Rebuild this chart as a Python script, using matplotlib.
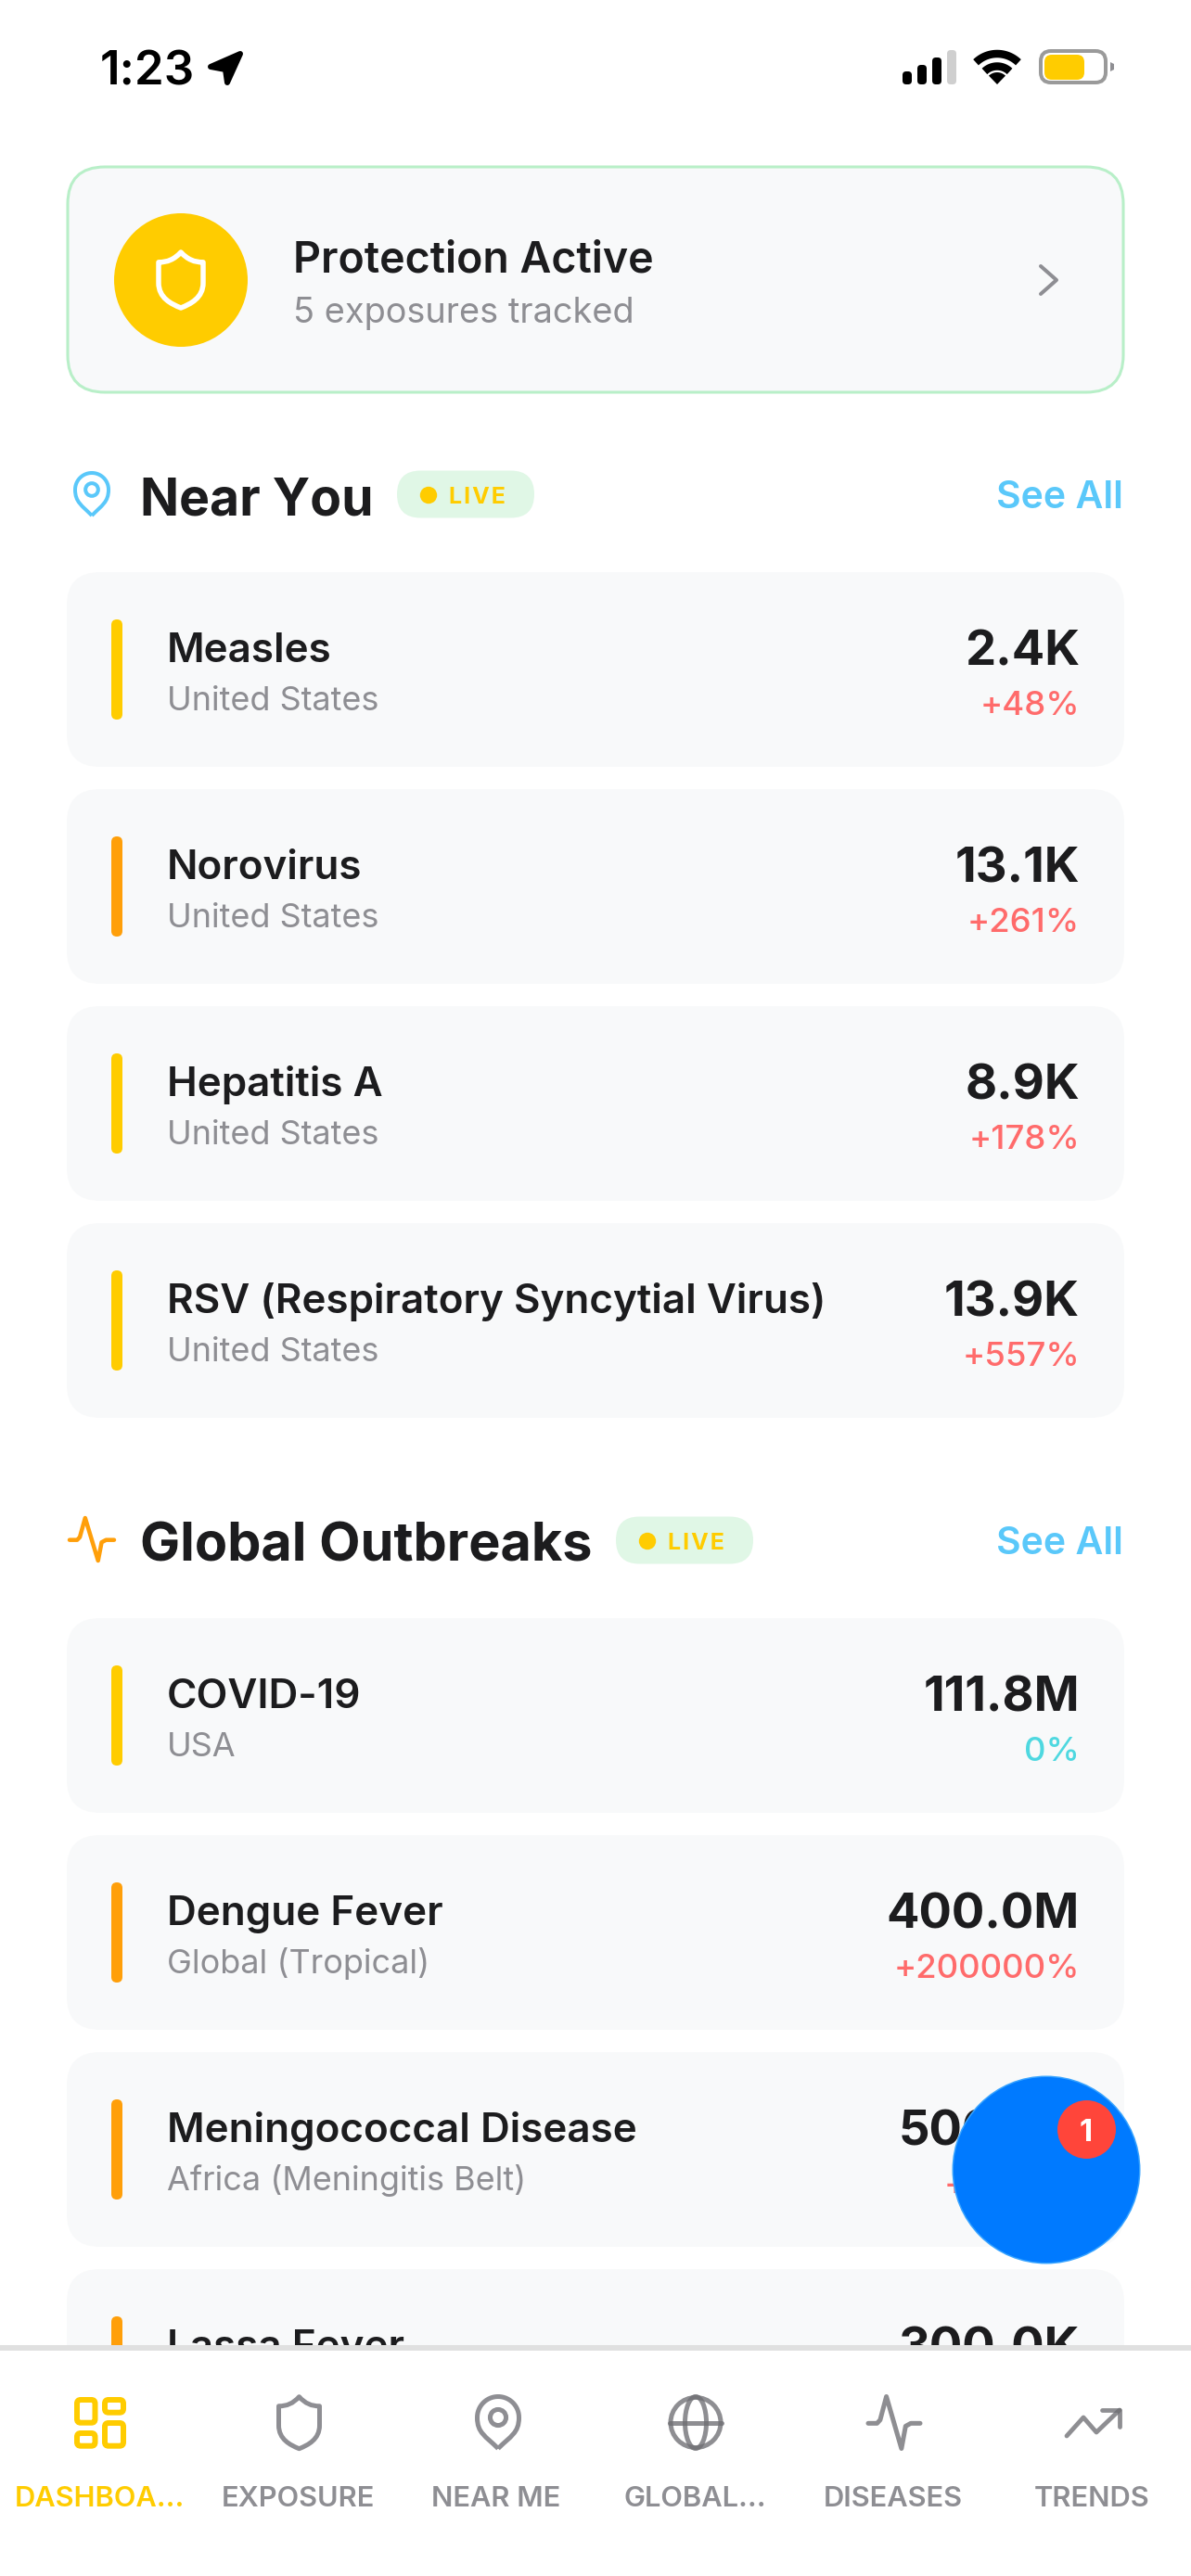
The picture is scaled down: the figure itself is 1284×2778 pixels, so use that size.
import numpy as np
import matplotlib
matplotlib.use('Agg')
import matplotlib.pyplot as plt
from matplotlib.patches import FancyBboxPatch, Circle, Ellipse, Rectangle, PathPatch, Polygon
from matplotlib.path import Path

plt.rcParams['font.family'] = ['Inter', 'DejaVu Sans']

near_names = ['Measles', 'Norovirus', 'Hepatitis A', 'RSV (Respiratory Syncytial Virus)']
near_regions = ['United States', 'United States', 'United States', 'United States']
near_values = ['2.4K', '13.1K', '8.9K', '13.9K']
near_changes = ['+48%', '+261%', '+178%', '+557%']
near_levels = ['y', 'o', 'y', 'y']

global_names = ['COVID-19', 'Dengue Fever', 'Meningococcal Disease', 'Lassa Fever']
global_regions = ['USA', 'Global (Tropical)', 'Africa (Meningitis Belt)', '']
global_values = ['111.8M', '400.0M', '500.0K', '300.0K']
global_changes = ['0%', '+200000%', '+1000%', '']
global_levels = ['y', 'o', 'o', 'o']

tab_labels = ['DASHBOA...', 'EXPOSURE', 'NEAR ME', 'GLOBAL...', 'DISEASES', 'TRENDS']

YELLOW = '#FFCC00'
ORANGE = '#FF9F0A'
DARK = '#1C1C1E'
GREY = '#8E8E93'
CARD = '#F8F9FA'
BLUE = '#5AC8FA'
RED = '#FF6B6B'
TEAL = '#4ED8E0'

fig = plt.figure(figsize=(12.84, 27.78), dpi=100)
ax = fig.add_axes([0, 0, 1, 1])
ax.set_xlim(0, 1284)
ax.set_ylim(2778, 0)
ax.axis('off')


def px(size):
    return size * 0.72


def rbox(x, y, w, h, r, fc, ec='none', lw=0, z=1):
    ax.add_patch(FancyBboxPatch((x + r, y + r), w - 2 * r, h - 2 * r,
                                boxstyle=f'round,pad={r},rounding_size={r}',
                                fc=fc, ec=ec, lw=lw, zorder=z))


def txt(x, y, s, size, color, weight='normal', ha='left', z=3):
    return ax.text(x, y, s, fontsize=px(size), color=color, fontweight=weight,
                   ha=ha, va='baseline', zorder=z)


def line(xs, ys, color, lw=4, z=4, alpha=1.0, cap='round'):
    ax.plot(xs, ys, color=color, lw=px(lw), solid_capstyle=cap, solid_joinstyle='round', zorder=z, alpha=alpha)


def shield(cx, cy, w, h, ec, lw=5, z=4):
    verts = [(0, -0.5),
             (0.15, -0.37), (0.3, -0.32), (0.5, -0.32),
             (0.5, 0.05),
             (0.5, 0.32), (0.22, 0.43), (0, 0.5),
             (-0.22, 0.43), (-0.5, 0.32), (-0.5, 0.05),
             (-0.5, -0.32),
             (-0.3, -0.32), (-0.15, -0.37), (0, -0.5),
             (0, -0.5)]
    codes = [Path.MOVETO,
             Path.CURVE4, Path.CURVE4, Path.CURVE4,
             Path.LINETO,
             Path.CURVE4, Path.CURVE4, Path.CURVE4,
             Path.CURVE4, Path.CURVE4, Path.CURVE4,
             Path.LINETO,
             Path.CURVE4, Path.CURVE4, Path.CURVE4,
             Path.CLOSEPOLY]
    v = [(cx + a * w, cy + b * h) for a, b in verts]
    ax.add_patch(PathPatch(Path(v, codes), fc='none', ec=ec, lw=px(lw), zorder=z, joinstyle='round'))


def pin(cx, cy, w, h, color, lw=4, z=4):
    r = w / 2
    ccy = cy - h / 2 + r
    head = [(cx + r * np.cos(q), ccy + r * np.sin(q)) for q in np.linspace(np.pi, 2 * np.pi, 30)]
    left = [(cx, cy + h / 2), (cx - r * 0.6, cy + h * 0.26), (cx - r, ccy + r * 0.75), (cx - r, ccy)]
    right = [(cx + r, ccy + r * 0.75), (cx + r * 0.6, cy + h * 0.26), (cx, cy + h / 2)]
    codes = [Path.MOVETO, Path.CURVE4, Path.CURVE4, Path.CURVE4] + [Path.LINETO] * 30 + [Path.CURVE4] * 3
    ax.add_patch(PathPatch(Path(left + head + right, codes), fc='none', ec=color, lw=px(lw), zorder=z,
                           joinstyle='round'))
    ax.add_patch(Circle((cx, ccy), r * 0.38, fc='none', ec=color, lw=px(lw), zorder=z))


def pulse(cx, cy, w, h, color, lw=4, z=4, alpha=1.0):
    xs = [-0.5, -0.33, -0.27, -0.15, 0.14, 0.22, 0.32, 0.5]
    ys = [0.015, 0.015, -0.05, -0.5, 0.5, 0.07, 0.015, 0.015]
    line([cx + a * w for a in xs], [cy + b * h for b in ys], color, lw, z, alpha)


def section(y_head, title, title_size, chip_x, names, regions, values, changes, levels, tops):
    txt(151, y_head + 22, title, title_size, DARK, 'bold')
    rbox(chip_x, y_head - 25.5, 148, 51, 25.5, '#E0F7E6')
    ax.add_patch(Circle((chip_x + 34, y_head + 1), 9.2, fc=YELLOW, ec='none', zorder=3))
    txt(chip_x + 56, y_head + 10, '\u200a'.join('LIVE'), 25, YELLOW, 'bold')
    txt(1211, y_head + 15, 'See All', 41, BLUE, 'semibold', ha='right')
    for i in range(len(names)):
        top = tops[i]
        rbox(72, top, 1140, 210, 36, CARD)
        col = YELLOW if levels[i] == 'y' else ORANGE
        rbox(120, top + 51, 12, 108, 6, col, z=2)
        txt(180, top + 97, names[i], 44, DARK, 'semibold')
        txt(180, top + 149, regions[i], 36, GREY)
        txt(1164, top + 100, values[i], 52.5, DARK, 'bold', ha='right')
        chg = RED if changes[i].startswith('+') else TEAL
        txt(1164, top + 154, changes[i], 36.5, chg, 'medium', ha='right')


# status bar
txt(108, 91, '1:23', 51, '#000000', 'semibold')
ax.add_patch(Polygon([(259, 58), (227, 72), (243, 75), (245, 89)], closed=True, fc='#000000', ec='#000000',
                     lw=px(6), joinstyle='round', zorder=3))
for x0, h, c in zip([973, 989, 1005, 1021], [14, 21, 29, 37], ['#000000', '#000000', '#000000', '#CFCFCF']):
    rbox(x0, 91 - h, 10, h, 4, c)
for r in [33, 19.5]:
    a = np.radians(np.linspace(46, 134, 25))
    line(1075 + r * np.cos(a), 91 - r * np.sin(a), '#000000', 8.5, cap='butt')
a = np.radians(np.linspace(46, 134, 12))
ax.add_patch(Polygon([(1075, 91)] + list(zip(1075 + 13 * np.cos(a), 91 - 13 * np.sin(a))), closed=True,
                     fc='#000000', ec='none', zorder=3))
rbox(1122, 55, 70, 34, 11, 'white', ec='#9A9A9A', lw=px(4))
rbox(1126, 59, 43, 27, 8, YELLOW, z=3)
ax.add_patch(Polygon([(1197, 67), (1201, 69), (1201, 75), (1197, 77)], closed=True, fc='#8E8E93', ec='none', zorder=3))

# protection banner
rbox(73, 180, 1138, 243, 40, CARD, ec='#B8EFC8', lw=2.2)
ax.add_patch(Circle((195, 302), 72, fc=YELLOW, ec='none', zorder=2))
shield(195, 302, 48, 60, 'white', lw=5.5)
txt(316, 293, 'Protection Active', 46.5, DARK, 'semibold')
txt(316, 348, '5 exposures tracked', 38, GREY)
line([1122, 1139, 1122], [287, 302, 317], GREY, 4)

# sections
pin(99, 533, 36, 46, BLUE, 4)
section(533, 'Near You', 55.3, 428, near_names, near_regions, near_values, near_changes, near_levels,
        [617, 851, 1085, 1319])
pulse(99, 1660, 48, 46, ORANGE, 4.5)
section(1661, 'Global Outbreaks', 57.6, 664, global_names, global_regions, global_values, global_changes,
        global_levels, [1745, 1979, 2213, 2447])

# floating button
ax.add_patch(Circle((1128, 2340), 101.5, fc='#38A4FF', ec='none', zorder=6))
ax.add_patch(Circle((1128, 2340), 100, fc='#007AFF', ec='none', zorder=6))
ax.add_patch(Circle((1171.5, 2296.5), 31.5, fc='#FF453A', ec='none', zorder=7))
txt(1171, 2309, '1', 33, 'white', 'bold', ha='center', z=8)

# tab bar
ax.add_patch(Rectangle((0, 2529), 1284, 249, fc='white', ec='none', zorder=5))
ax.add_patch(Rectangle((0, 2529), 1284, 6, fc='#E0E0E0', ec='none', zorder=5))
tab_x = [107, 321, 535, 749, 963, 1177]
for i, lab in enumerate(tab_labels):
    txt(tab_x[i], 2703, lab, 30.8, YELLOW if i == 0 else GREY, 'semibold', ha='center', z=6)

# tab icons
for x0, y0, w, h in [(83, 2588, 19.5, 24.7), (113, 2588, 20, 13.7), (113, 2613, 20, 24.7), (83, 2624, 19.5, 13.7)]:
    rbox(x0, y0, w, h, 4, 'none', ec=YELLOW, lw=px(6), z=6)
shield(322.5, 2612.7, 44, 56, GREY, lw=5, z=6)
pin(537, 2612.5, 45, 56, GREY, 5, z=6)

GLOBE = '#6E6E73'
ax.add_patch(Circle((750, 2612.5), 27, fc='none', ec=GLOBE, lw=px(5), zorder=6, alpha=0.78))
ax.add_patch(Ellipse((750, 2612.5), 23, 56, fc='none', ec=GLOBE, lw=px(5), zorder=6, alpha=0.78))
line([722, 778], [2612.7, 2612.7], GLOBE, 5, z=6, alpha=0.78)
pulse(964, 2612.5, 56, 56, GLOBE, 5, z=6, alpha=0.78)
line([1150, 1168, 1182, 1207], [2627, 2607, 2623, 2599], GLOBE, 4.8, z=6, alpha=0.78)
line([1188, 1207, 1207], [2599, 2599, 2617], GLOBE, 4.8, z=6, alpha=0.78)

fig.savefig('out.png', dpi=100, facecolor='white')
